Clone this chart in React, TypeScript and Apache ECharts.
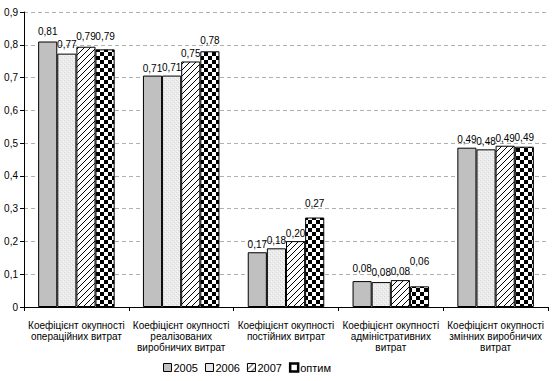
import React, { useEffect, useRef } from "react";
import * as echarts from "echarts";

const categories = [
  "Коефіцієнт окупності\nопераційних витрат",
  "Коефіцієнт окупності\nреалізованих\nвиробничих витрат",
  "Коефіцієнт окупності\nпостійних витрат",
  "Коефіцієнт окупності\nадміністративних\nвитрат",
  "Коефіцієнт окупності\nзмінних виробничих\nвитрат",
];
const seriesNames = ["2005", "2006", "2007", "оптим"];
const v2005 = [0.81, 0.706, 0.167, 0.079, 0.486];
const v2006 = [0.773, 0.706, 0.179, 0.076, 0.481];
const v2007 = [0.794, 0.749, 0.201, 0.082, 0.492];
const vOpt = [0.786, 0.78, 0.273, 0.063, 0.489];
const yTicks = [0, 0.1, 0.2, 0.3, 0.4, 0.5, 0.6, 0.7, 0.8, 0.9];

// label offsets (style only)
const labelDistances = [
  [5, 2, 3, 8, 3],
  [4, 3, 3, 5, 3],
  [5, 3, 3, 4, 2],
  [8, 6, 9, 20, 4],
];

function makeCanvas(w: number, h: number, draw: (c: CanvasRenderingContext2D) => void) {
  const cv = document.createElement("canvas");
  cv.width = w;
  cv.height = h;
  const ctx = cv.getContext("2d")!;
  draw(ctx);
  return cv;
}

export default function App() {
  const ref = useRef<HTMLDivElement>(null);
  useEffect(() => {
    if (!ref.current) return;
    const chart = echarts.init(ref.current, undefined, { renderer: "svg" });

    const speckle = makeCanvas(4, 4, (c) => {
      c.fillStyle = "#ebebeb";
      c.fillRect(0, 0, 4, 4);
      c.fillStyle = "#d8d8d8";
      c.fillRect(0, 0, 1, 1);
      c.fillRect(2, 2, 1, 1);
      c.fillStyle = "#f6f6f6";
      c.fillRect(3, 1, 1, 1);
      c.fillRect(1, 3, 1, 1);
    });
    const hatch = makeCanvas(6, 6, (c) => {
      c.fillStyle = "#ffffff";
      c.fillRect(0, 0, 6, 6);
      c.fillStyle = "#000000";
      for (let i = 0; i < 6; i++) {
        c.fillRect(5 - i, i, 1, 1);
      }
    });
    const checker = makeCanvas(8, 8, (c) => {
      c.fillStyle = "#ffffff";
      c.fillRect(0, 0, 8, 8);
      c.fillStyle = "#000000";
      c.fillRect(0, 0, 4, 4);
      c.fillRect(4, 4, 4, 4);
    });

    const pat = (cv: HTMLCanvasElement) => ({
      image: cv,
      repeat: "repeat",
      imageWidth: cv.width,
      imageHeight: cv.height,
    });

    const fills: any[] = ["#c0c0c0", pat(speckle), pat(hatch), pat(checker)];
    const legendColors: any[] = ["#c0c0c0", "#e6e6e6", pat(hatch), "#ffffff"];
    const datas = [v2005, v2006, v2007, vOpt];
    const fmt = (n: number) => n.toFixed(2).replace(".", ",");

    const font = "Liberation Sans, Arial, sans-serif";

    chart.setOption({
      animation: false,
      grid: { left: 24, right: 4, top: 12, bottom: 74, containLabel: false },
      legend: {
        bottom: 3,
        left: 158,
        itemWidth: 8,
        itemHeight: 8,
        itemGap: 7,
        icon: "rect",
        textStyle: { fontFamily: font, fontSize: 11, color: "#000", padding: [0, 0, 0, -3] },
        data: seriesNames.map((n, i) => ({
          name: n,
          itemStyle: { color: legendColors[i], borderColor: "#000", borderWidth: i === 3 ? 2.5 : 1 },
        })),
      },
      xAxis: {
        type: "category",
        data: categories,
        axisLine: { lineStyle: { color: "#000" } },
        axisTick: { show: true, length: 4, lineStyle: { color: "#000" } },
        axisLabel: {
          interval: 0,
          fontFamily: font,
          fontSize: 10,
          color: "#000",
          lineHeight: 11,
          margin: 13,
        },
      },
      yAxis: {
        type: "value",
        min: 0,
        max: 0.9,
        interval: 0.1,
        axisLine: { show: true, lineStyle: { color: "#000" } },
        axisTick: { show: true, length: 4, lineStyle: { color: "#000" } },
        axisLabel: {
          fontFamily: font,
          fontSize: 10,
          color: "#000",
          margin: 6,
          formatter: (v: number) => {
            const t = yTicks.find((x) => Math.abs(x - v) < 1e-6);
            const val = t === undefined ? v : t;
            return val === 0 ? "0" : val.toFixed(1).replace(".", ",");
          },
        },
        splitLine: { lineStyle: { color: "#b0b0b0", type: [4, 3] } },
      },
      series: datas.map((d, i) => ({
        name: seriesNames[i],
        type: "bar",
        data: d.map((v, j) => ({ value: v, label: { distance: labelDistances[i][j] } })),
        barGap: "0%",
        barCategoryGap: "27%",
        itemStyle: { color: fills[i], borderColor: "#000", borderWidth: 1 },
        label: {
          show: true,
          position: "top",
          fontFamily: font,
          fontSize: 10,
          color: "#000",
          formatter: (p: any) => fmt(p.value),
        },
      })),
    });
    return () => chart.dispose();
  }, []);
  return <div ref={ref} style={{ width: 552, height: 381, position: "absolute", left: 0, top: 0 }} />;
}
